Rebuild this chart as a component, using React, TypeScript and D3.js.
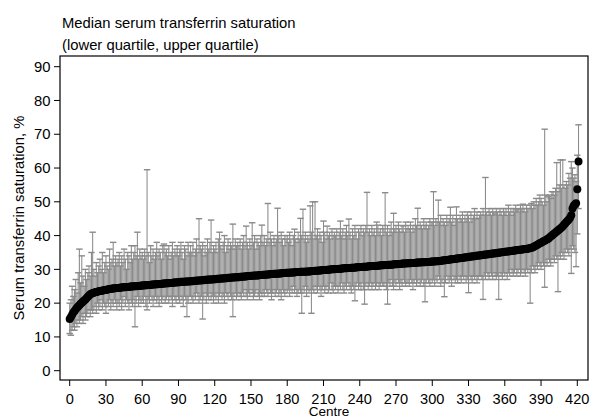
import React from "react";
import * as d3 from "d3";

const title1 = "Median serum transferrin saturation";
const title2 = "(lower quartile, upper quartile)";
const yTitle = "Serum transferrin saturation, %";
const xTitle = "Centre";
const yTicks = [0, 10, 20, 30, 40, 50, 60, 70, 80, 90];
const xTicks = [0, 30, 60, 90, 120, 150, 180, 210, 240, 270, 300, 330, 360, 390, 420];

// Median per centre (sorted rank 0..421)
const medians = [
  15.3, 15.9, 16.6, 17.2, 17.7, 18.2, 18.6, 19.0, 19.4, 19.8, 20.1, 20.5, 20.8, 21.1, 21.5, 21.9, 22.3, 22.6, 22.8, 23.0,
  23.1, 23.2, 23.3, 23.4, 23.5, 23.6, 23.7, 23.7, 23.8, 23.9, 24.0, 24.0, 24.1, 24.2, 24.2, 24.3, 24.3, 24.4, 24.4, 24.5,
  24.5, 24.5, 24.6, 24.6, 24.7, 24.7, 24.7, 24.8, 24.8, 24.8, 24.9, 24.9, 24.9, 25.0, 25.0, 25.0, 25.1, 25.1, 25.1, 25.2,
  25.2, 25.2, 25.3, 25.3, 25.3, 25.4, 25.4, 25.4, 25.5, 25.5, 25.5, 25.6, 25.6, 25.6, 25.7, 25.7, 25.7, 25.8, 25.8, 25.8,
  25.9, 25.9, 25.9, 26.0, 26.0, 26.0, 26.1, 26.1, 26.1, 26.2, 26.2, 26.2, 26.3, 26.3, 26.3, 26.3, 26.4, 26.4, 26.4, 26.4,
  26.5, 26.5, 26.5, 26.6, 26.6, 26.6, 26.7, 26.7, 26.7, 26.8, 26.8, 26.8, 26.9, 26.9, 26.9, 27.0, 27.0, 27.0, 27.0, 27.1,
  27.1, 27.1, 27.2, 27.2, 27.2, 27.3, 27.3, 27.3, 27.4, 27.4, 27.4, 27.5, 27.5, 27.5, 27.6, 27.6, 27.6, 27.7, 27.7, 27.7,
  27.7, 27.8, 27.8, 27.8, 27.9, 27.9, 27.9, 28.0, 28.0, 28.0, 28.1, 28.1, 28.1, 28.2, 28.2, 28.2, 28.2, 28.3, 28.3, 28.3,
  28.4, 28.4, 28.4, 28.5, 28.5, 28.5, 28.6, 28.6, 28.6, 28.7, 28.7, 28.7, 28.7, 28.8, 28.8, 28.8, 28.9, 28.9, 28.9, 29.0,
  29.0, 29.0, 29.0, 29.1, 29.1, 29.1, 29.1, 29.2, 29.2, 29.2, 29.2, 29.3, 29.3, 29.3, 29.3, 29.3, 29.4, 29.4, 29.4, 29.4,
  29.5, 29.5, 29.5, 29.6, 29.6, 29.6, 29.7, 29.7, 29.7, 29.8, 29.8, 29.8, 29.8, 29.9, 29.9, 29.9, 30.0, 30.0, 30.0, 30.0,
  30.1, 30.1, 30.1, 30.2, 30.2, 30.2, 30.3, 30.3, 30.3, 30.3, 30.4, 30.4, 30.4, 30.5, 30.5, 30.5, 30.5, 30.6, 30.6, 30.6,
  30.7, 30.7, 30.7, 30.8, 30.8, 30.8, 30.8, 30.9, 30.9, 30.9, 31.0, 31.0, 31.0, 31.0, 31.1, 31.1, 31.1, 31.2, 31.2, 31.2,
  31.2, 31.3, 31.3, 31.3, 31.4, 31.4, 31.4, 31.4, 31.5, 31.5, 31.5, 31.5, 31.6, 31.6, 31.6, 31.7, 31.7, 31.7, 31.7, 31.8,
  31.8, 31.8, 31.8, 31.9, 31.9, 31.9, 31.9, 32.0, 32.0, 32.0, 32.0, 32.1, 32.1, 32.1, 32.1, 32.2, 32.2, 32.2, 32.2, 32.3,
  32.3, 32.3, 32.3, 32.4, 32.4, 32.4, 32.5, 32.5, 32.6, 32.6, 32.7, 32.7, 32.8, 32.8, 32.9, 32.9, 33.0, 33.0, 33.1, 33.1,
  33.2, 33.2, 33.3, 33.3, 33.4, 33.4, 33.5, 33.5, 33.6, 33.6, 33.7, 33.7, 33.8, 33.8, 33.9, 33.9, 34.0, 34.0, 34.1, 34.1,
  34.2, 34.2, 34.3, 34.3, 34.4, 34.4, 34.5, 34.5, 34.6, 34.6, 34.7, 34.7, 34.8, 34.8, 34.9, 34.9, 35.0, 35.0, 35.1, 35.1,
  35.2, 35.2, 35.3, 35.3, 35.4, 35.4, 35.5, 35.5, 35.6, 35.6, 35.7, 35.7, 35.8, 35.8, 35.9, 35.9, 36.0, 36.0, 36.1, 36.1,
  36.2, 36.3, 36.4, 36.5, 36.7, 36.9, 37.1, 37.3, 37.5, 37.7, 37.9, 38.1, 38.3, 38.5, 38.7, 38.9, 39.1, 39.4, 39.7, 40.0,
  40.3, 40.6, 40.9, 41.2, 41.5, 41.8, 42.1, 42.4, 42.8, 43.2, 43.6, 44.0, 44.4, 44.8, 45.3, 46.0, 48.0, 48.8, 49.2, 49.6, 53.7, 61.9,
];

// Lower quartile per centre
const lowerQ = [
  11, 10.5, 12, 13, 12, 14, 13, 15, 14, 15, 16, 14, 17, 15, 16, 17, 18, 16, 18, 17,
  18, 19, 17, 20, 18, 19, 21, 18, 20, 19, 17, 20, 19, 21, 18, 20, 19, 21, 20, 18,
  20, 19, 21, 18, 20, 22, 19, 21, 20, 18, 21, 20, 19, 21, 13, 20, 22, 19, 21, 20,
  21, 20, 22, 19, 18, 21, 20, 22, 21, 19, 21, 22, 20, 21, 19, 22, 20, 21, 22, 20,
  21, 22, 20, 22, 21, 19, 22, 21, 20, 22, 21, 20, 22, 21, 19, 22, 21, 16, 20, 22,
  22, 21, 20, 22, 21, 23, 22, 20, 21, 22, 15.3, 21, 23, 20, 22, 21, 23, 21, 22, 20,
  22, 21, 23, 20, 22, 23, 21, 22, 20, 23, 22, 21, 23, 22, 21, 16, 22, 23, 21, 22,
  23, 22, 21, 23, 22, 24, 22, 21, 23, 22, 24, 23, 21, 22, 23, 24, 22, 21, 23, 22,
  23, 22, 24, 23, 22, 24, 23, 21, 23, 24, 22, 23, 24, 22, 23, 21, 24, 23, 22, 24,
  23, 24, 22, 24, 23, 25, 23, 24, 22, 23, 24, 23, 17, 24, 23, 25, 22, 24, 23, 24,
  17, 24, 23, 25, 24, 23, 25, 24, 22, 24, 25, 23, 24, 25, 23, 24, 26, 24, 23, 25,
  24, 25, 23, 25, 24, 26, 24, 23, 25, 24, 26, 25, 24, 23, 25, 24, 20.7, 25, 26, 24,
  25, 24, 26, 24, 19.7, 25, 26, 24, 25, 26, 24, 25, 26, 24, 25, 26, 24, 25, 26, 25,
  25, 26, 24, 19.7, 26, 25, 27, 25, 24, 26, 25, 27, 26, 24, 26, 25, 27, 26, 25, 26,
  26, 25, 27, 26, 24, 26, 27, 25, 26, 27, 25, 26, 27, 25, 20.4, 26, 27, 26, 25, 27,
  26, 27, 25, 27, 26, 28, 27, 25, 26, 27, 21.9, 26, 28, 27, 26, 27, 25, 28, 27, 26,
  27, 26, 28, 27, 26, 28, 27, 28, 26, 27, 23.1, 28, 27, 26, 28, 27, 28, 26, 27, 28,
  28, 27, 21.1, 28, 27, 29, 28, 27, 29, 28, 27, 29, 28, 27, 28, 21.1, 29, 28, 27, 29,
  28, 29, 27, 29, 28, 30, 29, 28, 29, 30, 28, 29, 30, 28, 29, 30, 29, 28, 30, 29,
  30, 20, 29, 31, 30, 29, 31, 30, 32, 31, 30, 32, 31, 24.7, 32, 31, 33, 32, 31, 33,
  33, 32, 34, 33, 23.4, 34, 33, 35, 34, 33, 35, 36, 35, 34, 36, 28.8, 37, 36, 35, 30.8, 40.5, 48,
];

// Upper quartile per centre
const upperQ = [
  20, 21, 25, 22, 24, 27, 23, 29, 36, 26, 34, 28, 25, 30, 27, 29, 31, 28, 35, 41,
  30, 28, 32, 29, 31, 33, 30, 35, 29, 32, 34, 31, 30, 36, 32, 33, 38, 31, 34, 32,
  33, 35, 31, 34, 32, 36, 33, 30, 35, 34, 32, 37, 33, 35, 37, 34, 41, 33, 36, 34,
  35, 33, 36, 34, 59.5, 35, 32, 37, 34, 36, 33, 35, 38, 34, 36, 35, 33, 37, 37.5, 35,
  36, 34, 37, 33, 35, 38, 34, 36, 35, 37, 34, 36, 38, 35, 33, 37, 36, 34, 38, 35,
  37, 35, 38, 34, 36, 39, 35, 45, 37, 36, 38, 34, 37, 35, 39, 36, 38, 44.6, 35, 37,
  36, 38, 35, 39, 41, 37, 36, 38, 40, 35, 37, 39, 36, 38, 37, 43.4, 36, 39, 37, 38,
  37, 39, 36, 38, 40, 37, 42.8, 38, 36, 39, 37, 43.8, 38, 40, 36, 39, 38, 37, 40, 43.1,
  38, 40, 37, 39, 49.5, 38, 41, 39, 37, 40, 38, 39, 48.1, 40, 38, 41, 39, 37, 40, 39,
  40, 38, 41, 39, 37, 40, 41.9, 39, 38, 41, 39, 45.1, 40, 47.8, 39, 41, 38, 40, 39, 48.8,
  41, 50, 39, 50, 40, 42, 39, 41, 40, 38, 44.3, 41, 39, 42.8, 40, 41, 39, 42, 40, 41,
  40, 42, 39, 41, 44.3, 40, 42, 39, 41, 43, 40, 44.9, 41, 39, 42, 40, 43, 41, 39, 42,
  41, 43, 40, 42, 41, 43, 52.8, 41, 42, 40, 43, 41, 42, 40, 44, 43.1, 41, 42, 40, 43,
  42, 52.7, 41, 43, 40, 42, 44, 41, 46.6, 42, 43, 41, 44, 42, 41, 43, 42.9, 41, 44, 42,
  43, 42, 44, 41, 43, 42, 45, 43, 48.1, 42, 44, 43, 42, 45, 43, 44, 42, 43, 45, 44,
  44, 53, 43, 45, 44, 50.5, 44, 46, 43, 45, 44, 43, 46, 44, 45, 48.4, 44, 46, 43, 45,
  48.5, 45, 44, 46, 45, 47, 44, 46, 45, 47, 46, 44, 47, 45, 46, 48, 45, 47, 45.1, 46,
  47, 46, 48, 46, 57.2, 47, 46, 48, 47, 46, 48, 47, 46.4, 48, 47, 46, 48, 47.1, 46, 48,
  47, 48, 46, 49, 47, 48, 46, 48, 47, 49, 47.6, 48, 47, 49, 48, 49.3, 48, 47, 49, 48,
  48, 49, 49.5, 48, 50, 49, 51, 49, 50, 52, 51, 50, 49, 71.5, 52, 50, 51.5, 52, 51, 53,
  53, 52, 54, 61.6, 53, 55, 62.4, 54, 62.4, 55, 54, 56, 55, 58.4, 57, 61.9, 60, 57, 58, 56, 63.8, 72.8,
];

const W = 591;
const H = 419;
const plot = { left: 60, right: 588, top: 56, bottom: 380 };
const FONT = "'Liberation Sans', Arial, Helvetica, sans-serif";
const BAR = "#8a8a8a";

export default function App() {
  const x = d3.scaleLinear().domain([0, 420]).range([69.7, 577.3]);
  const y = d3.scaleLinear().domain([0, 90]).range([370.7, 66.7]);
  const n = Math.min(medians.length, lowerQ.length, upperQ.length);
  const idx = d3.range(n);
  const capHalf = 3.2;

  return (
    <svg
      width={W}
      height={H}
      style={{ position: "absolute", left: 0, top: 0, background: "#fff" }}
      fontFamily={FONT}
    >
      <rect x={0} y={0} width={W} height={H} fill="#fff" />
      <text x={62} y={28} fontSize={14.8} fill="#000">{title1}</text>
      <text x={62} y={50} fontSize={14.8} fill="#000">{title2}</text>

      {/* error bars */}
      <g stroke={BAR} fill="none">
        {idx.map((i) => {
          const cx = x(i);
          const y1 = y(lowerQ[i]);
          const y2 = y(upperQ[i]);
          return (
            <g key={i}>
              <line x1={cx} x2={cx} y1={y1} y2={y2} strokeWidth={1.05} />
              <line x1={cx - capHalf} x2={cx + capHalf} y1={y1} y2={y1} strokeWidth={1.4} />
              <line x1={cx - capHalf} x2={cx + capHalf} y1={y2} y2={y2} strokeWidth={1.4} />
            </g>
          );
        })}
      </g>

      {/* medians */}
      <g fill="#000">
        {idx.map((i) => (
          <circle key={i} cx={x(i)} cy={y(medians[i])} r={4} />
        ))}
      </g>

      {/* frame */}
      <rect
        x={plot.left}
        y={plot.top}
        width={plot.right - plot.left}
        height={plot.bottom - plot.top}
        fill="none"
        stroke="#000"
        strokeWidth={1.2}
      />

      {/* y axis */}
      {yTicks.map((t) => (
        <g key={t}>
          <line x1={plot.left - 6} x2={plot.left} y1={y(t)} y2={y(t)} stroke="#000" strokeWidth={1} />
          <text x={50.5} y={y(t) + 5.2} fontSize={14.8} textAnchor="end" fill="#000">{t}</text>
        </g>
      ))}
      <text
        transform={`translate(24, ${(plot.top + plot.bottom) / 2}) rotate(-90)`}
        fontSize={14.8}
        textAnchor="middle"
        fill="#000"
      >
        {yTitle}
      </text>

      {/* x axis */}
      {xTicks.map((t) => (
        <g key={t}>
          <line x1={x(t)} x2={x(t)} y1={plot.bottom} y2={plot.bottom + 6} stroke="#000" strokeWidth={1} />
          <text x={x(t)} y={403.6} fontSize={14.6} textAnchor="middle" fill="#000">{t}</text>
        </g>
      ))}
      <text x={329} y={416.2} fontSize={13.5} textAnchor="middle" fill="#000">{xTitle}</text>
    </svg>
  );
}
